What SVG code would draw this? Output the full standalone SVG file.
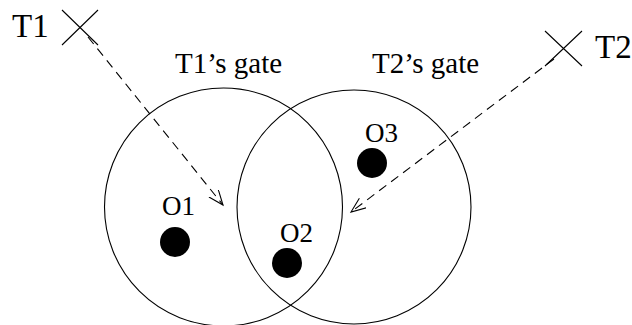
<svg xmlns="http://www.w3.org/2000/svg" width="632" height="325" viewBox="0 0 632 325" font-family="'Liberation Serif','Times New Roman',serif">
<defs>
<style>
.ln{fill:none;stroke:#000;stroke-width:1.1}
.dash{fill:none;stroke:#000;stroke-width:1.1;stroke-dasharray:9 6}
text{font-family:"Liberation Serif","Times New Roman",serif;fill:#000}
.big{font-size:33px}
.lab{font-size:29px}
.obj{font-size:27px}
</style>
<marker id="ah" markerUnits="userSpaceOnUse" markerWidth="20" markerHeight="14" refX="15" refY="6" orient="auto">
<path d="M0,0 L15,6 L0,12" fill="none" stroke="#000" stroke-width="1.1"/>
</marker>
</defs>
<rect width="632" height="325" fill="#fff"/>
<g id="gate1">
<circle class="ln" cx="223.5" cy="207" r="119"/>
<text class="lab" x="175" y="73">T1’s gate</text>
</g>
<g id="gate2">
<circle class="ln" cx="354" cy="207" r="117"/>
<text class="lab" x="372" y="73">T2’s gate</text>
</g>
<g id="T1">
<path class="ln" d="M62,10 L98,45 M98,10 L62,45"/>
<text class="big" x="12" y="37">T1</text>
</g>
<g id="T2">
<path class="ln" d="M545,31 L582,66 M582,31 L545,66"/>
<text class="big" x="595" y="58">T2</text>
</g>
<g id="O1">
<circle cx="175" cy="242" r="15" fill="#000"/>
<text class="obj" x="162" y="215">O1</text>
</g>
<g id="O2">
<circle cx="287" cy="263" r="15" fill="#000"/>
<text class="obj" x="280" y="242">O2</text>
</g>
<g id="O3">
<circle cx="372" cy="163" r="15" fill="#000"/>
<text class="obj" x="365" y="142">O3</text>
</g>
<g id="connectors">
<path class="dash" d="M88,37 L223,205" marker-end="url(#ah)"/>
<path class="dash" d="M554,59 L351,212" marker-end="url(#ah)"/>
</g>
</svg>
